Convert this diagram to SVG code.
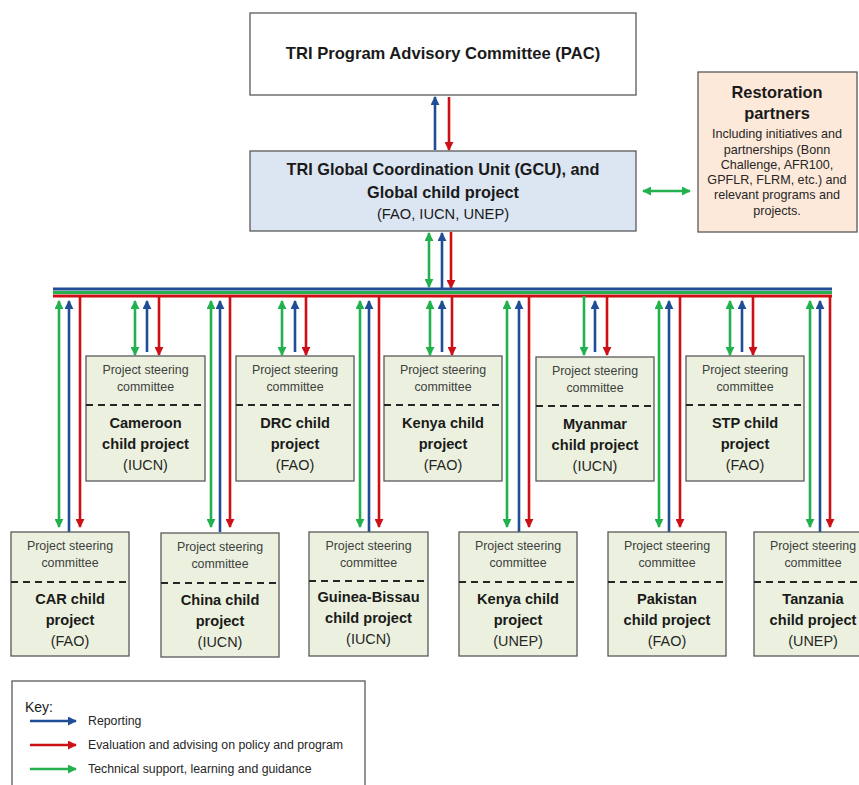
<svg xmlns="http://www.w3.org/2000/svg" width="859" height="785" viewBox="0 0 859 785">
<style>
text{font-family:"Liberation Sans",Arial,sans-serif;fill:#1a1a1a;text-anchor:middle}
.box{stroke:#595959;stroke-width:1.3}
.child{fill:#ebf1de}
.psc{font-size:12.4px;fill:#404040}
.nm{font-size:14.6px;font-weight:bold}
.ag{font-size:14.4px;fill:#262626}
.dash{stroke:#262626;stroke-width:2;stroke-dasharray:7 5}
.b{stroke:#1f4e96;stroke-width:2.6;fill:none}
.r{stroke:#cc1016;stroke-width:2.6;fill:none}
.g{stroke:#22b14c;stroke-width:2.6;fill:none}
.key{font-size:12.3px;text-anchor:start;fill:#262626}
.sm{font-size:12.6px;fill:#262626}
</style>
<defs>
<marker id="hb" viewBox="0 0 10 10" refX="9" refY="5" markerWidth="9" markerHeight="9" markerUnits="userSpaceOnUse" orient="auto-start-reverse"><path d="M0,0 L10,5 L0,10 z" fill="#1f4e96"/></marker>
<marker id="hr" viewBox="0 0 10 10" refX="9" refY="5" markerWidth="9" markerHeight="9" markerUnits="userSpaceOnUse" orient="auto-start-reverse"><path d="M0,0 L10,5 L0,10 z" fill="#cc1016"/></marker>
<marker id="hg" viewBox="0 0 10 10" refX="9" refY="5" markerWidth="9" markerHeight="9" markerUnits="userSpaceOnUse" orient="auto-start-reverse"><path d="M0,0 L10,5 L0,10 z" fill="#22b14c"/></marker>
</defs>
<rect width="859" height="785" fill="#ffffff"/>

<g id="connectors">
  <!-- PAC - GCU -->
  <line class="b" x1="435" y1="150" x2="435" y2="97" marker-end="url(#hb)"/>
  <line class="r" x1="449" y1="97" x2="449" y2="150" marker-end="url(#hr)"/>
  <!-- GCU - partners -->
  <line class="g" x1="643" y1="191" x2="690" y2="191" marker-start="url(#hg)" marker-end="url(#hg)"/>
  <!-- GCU - bus -->
  <line class="g" x1="429" y1="233" x2="429" y2="287" marker-start="url(#hg)" marker-end="url(#hg)"/>
  <line class="b" x1="442" y1="288" x2="442" y2="233" marker-end="url(#hb)"/>
  <line class="r" x1="451" y1="232" x2="451" y2="288" marker-end="url(#hr)"/>
  <!-- bus -->
  <line x1="53" y1="289" x2="832" y2="289" stroke="#1f4e96" stroke-width="3"/>
  <line x1="53" y1="292.5" x2="832" y2="292.5" stroke="#22b14c" stroke-width="3"/>
  <line x1="53" y1="296" x2="832" y2="296" stroke="#cc1016" stroke-width="3"/>
  <!-- upper row -->
  <line class="g" x1="135" y1="301" x2="135" y2="355" marker-start="url(#hg)" marker-end="url(#hg)"/>
  <line class="b" x1="147" y1="352" x2="147" y2="301" marker-end="url(#hb)"/>
  <line class="r" x1="159" y1="296" x2="159" y2="355" marker-end="url(#hr)"/>
  <line class="g" x1="282" y1="301" x2="282" y2="355" marker-start="url(#hg)" marker-end="url(#hg)"/>
  <line class="b" x1="295" y1="352" x2="295" y2="301" marker-end="url(#hb)"/>
  <line class="r" x1="306" y1="296" x2="306" y2="355" marker-end="url(#hr)"/>
  <line class="g" x1="430" y1="301" x2="430" y2="355" marker-start="url(#hg)" marker-end="url(#hg)"/>
  <line class="b" x1="442" y1="352" x2="442" y2="301" marker-end="url(#hb)"/>
  <line class="r" x1="452" y1="296" x2="452" y2="355" marker-end="url(#hr)"/>
  <line class="g" x1="584" y1="296" x2="584" y2="355" marker-end="url(#hg)"/>
  <line class="b" x1="595" y1="352" x2="595" y2="301" marker-end="url(#hb)"/>
  <line class="r" x1="607" y1="296" x2="607" y2="355" marker-end="url(#hr)"/>
  <line class="g" x1="730" y1="301" x2="730" y2="355" marker-start="url(#hg)" marker-end="url(#hg)"/>
  <line class="b" x1="742" y1="352" x2="742" y2="301" marker-end="url(#hb)"/>
  <line class="r" x1="753" y1="296" x2="753" y2="355" marker-end="url(#hr)"/>
  <!-- lower row -->
  <line class="g" x1="59" y1="301" x2="59" y2="527" marker-start="url(#hg)" marker-end="url(#hg)"/>
  <line class="b" x1="69" y1="532" x2="69" y2="301" marker-end="url(#hb)"/>
  <line class="r" x1="80" y1="296" x2="80" y2="527" marker-end="url(#hr)"/>
  <line class="g" x1="211" y1="301" x2="211" y2="527" marker-start="url(#hg)" marker-end="url(#hg)"/>
  <line class="b" x1="220" y1="532" x2="220" y2="301" marker-end="url(#hb)"/>
  <line class="r" x1="230" y1="296" x2="230" y2="527" marker-end="url(#hr)"/>
  <line class="g" x1="360" y1="301" x2="360" y2="527" marker-start="url(#hg)" marker-end="url(#hg)"/>
  <line class="b" x1="369" y1="532" x2="369" y2="301" marker-end="url(#hb)"/>
  <line class="r" x1="379" y1="296" x2="379" y2="527" marker-end="url(#hr)"/>
  <line class="g" x1="507" y1="301" x2="507" y2="527" marker-start="url(#hg)" marker-end="url(#hg)"/>
  <line class="b" x1="519" y1="532" x2="519" y2="301" marker-end="url(#hb)"/>
  <line class="r" x1="529" y1="296" x2="529" y2="527" marker-end="url(#hr)"/>
  <line class="g" x1="659" y1="301" x2="659" y2="527" marker-start="url(#hg)" marker-end="url(#hg)"/>
  <line class="b" x1="669" y1="532" x2="669" y2="301" marker-end="url(#hb)"/>
  <line class="r" x1="680" y1="296" x2="680" y2="527" marker-end="url(#hr)"/>
  <line class="g" x1="810" y1="301" x2="810" y2="527" marker-start="url(#hg)" marker-end="url(#hg)"/>
  <line class="b" x1="820" y1="532" x2="820" y2="301" marker-end="url(#hb)"/>
  <line class="r" x1="830" y1="296" x2="830" y2="527" marker-end="url(#hr)"/>
</g>

<g id="pac">
  <rect class="box" x="250" y="13" width="386" height="82" fill="#ffffff"/>
  <text x="443" y="59" font-size="16.6" font-weight="bold">TRI Program Advisory Committee (PAC)</text>
</g>

<g id="gcu">
  <rect class="box" x="250" y="151" width="386" height="80" fill="#dce6f2"/>
  <text x="443" y="175" font-size="16.3" font-weight="bold">TRI Global Coordination Unit (GCU), and</text>
  <text x="443" y="198" font-size="16.3" font-weight="bold">Global child project</text>
  <text x="443" y="219" font-size="14.7" fill="#262626">(FAO, IUCN, UNEP)</text>
</g>

<g id="partners">
  <rect class="box" x="698" y="72" width="159" height="160" fill="#fde9d9"/>
  <text x="777" y="98" font-size="16.4" font-weight="bold">Restoration</text>
  <text x="777" y="119" font-size="16.4" font-weight="bold">partners</text>
  <text class="sm" x="777" y="138">Including initiatives and</text>
  <text class="sm" x="777" y="154">partnerships (Bonn</text>
  <text class="sm" x="777" y="169">Challenge, AFR100,</text>
  <text class="sm" x="777" y="184">GPFLR, FLRM, etc.) and</text>
  <text class="sm" x="777" y="199">relevant programs and</text>
  <text class="sm" x="777" y="215">projects.</text>
</g>

<g id="cameroon">
  <rect class="box child" x="86" y="356" width="119" height="125"/>
  <text class="psc" x="145.5" y="374">Project steering</text>
  <text class="psc" x="145.5" y="391">committee</text>
  <line class="dash" x1="86" y1="405" x2="205" y2="405"/>
  <text class="nm" x="145.5" y="428">Cameroon</text>
  <text class="nm" x="145.5" y="449">child project</text>
  <text class="ag" x="145.5" y="470">(IUCN)</text>
</g>
<g id="drc">
  <rect class="box child" x="236" y="356" width="118" height="125"/>
  <text class="psc" x="295" y="374">Project steering</text>
  <text class="psc" x="295" y="391">committee</text>
  <line class="dash" x1="236" y1="405" x2="354" y2="405"/>
  <text class="nm" x="295" y="428">DRC child</text>
  <text class="nm" x="295" y="449">project</text>
  <text class="ag" x="295" y="470">(FAO)</text>
</g>
<g id="kenya-fao">
  <rect class="box child" x="384" y="356" width="118" height="125"/>
  <text class="psc" x="443" y="374">Project steering</text>
  <text class="psc" x="443" y="391">committee</text>
  <line class="dash" x1="384" y1="405" x2="502" y2="405"/>
  <text class="nm" x="443" y="428">Kenya child</text>
  <text class="nm" x="443" y="449">project</text>
  <text class="ag" x="443" y="470">(FAO)</text>
</g>
<g id="myanmar">
  <rect class="box child" x="536" y="357" width="118" height="124"/>
  <text class="psc" x="595" y="375">Project steering</text>
  <text class="psc" x="595" y="392">committee</text>
  <line class="dash" x1="536" y1="406" x2="654" y2="406"/>
  <text class="nm" x="595" y="429">Myanmar</text>
  <text class="nm" x="595" y="450">child project</text>
  <text class="ag" x="595" y="471">(IUCN)</text>
</g>
<g id="stp">
  <rect class="box child" x="686" y="356" width="118" height="125"/>
  <text class="psc" x="745" y="374">Project steering</text>
  <text class="psc" x="745" y="391">committee</text>
  <line class="dash" x1="686" y1="405" x2="804" y2="405"/>
  <text class="nm" x="745" y="428">STP child</text>
  <text class="nm" x="745" y="449">project</text>
  <text class="ag" x="745" y="470">(FAO)</text>
</g>

<g id="car">
  <rect class="box child" x="11" y="532" width="118" height="124"/>
  <text class="psc" x="70" y="550">Project steering</text>
  <text class="psc" x="70" y="567">committee</text>
  <line class="dash" x1="11" y1="582" x2="129" y2="582"/>
  <text class="nm" x="70" y="604">CAR child</text>
  <text class="nm" x="70" y="625">project</text>
  <text class="ag" x="70" y="646">(FAO)</text>
</g>
<g id="china">
  <rect class="box child" x="161" y="533" width="118" height="124"/>
  <text class="psc" x="220" y="551">Project steering</text>
  <text class="psc" x="220" y="568">committee</text>
  <line class="dash" x1="161" y1="583" x2="279" y2="583"/>
  <text class="nm" x="220" y="605">China child</text>
  <text class="nm" x="220" y="626">project</text>
  <text class="ag" x="220" y="647">(IUCN)</text>
</g>
<g id="guinea-bissau">
  <rect class="box child" x="309" y="532" width="119" height="124"/>
  <text class="psc" x="368.5" y="550">Project steering</text>
  <text class="psc" x="368.5" y="567">committee</text>
  <line class="dash" x1="309" y1="581" x2="428" y2="581"/>
  <text class="nm" x="368.5" y="602" font-size="13.6">Guinea-Bissau</text>
  <text class="nm" x="368.5" y="623">child project</text>
  <text class="ag" x="368.5" y="644">(IUCN)</text>
</g>
<g id="kenya-unep">
  <rect class="box child" x="459" y="532" width="118" height="124"/>
  <text class="psc" x="518" y="550">Project steering</text>
  <text class="psc" x="518" y="567">committee</text>
  <line class="dash" x1="459" y1="582" x2="577" y2="582"/>
  <text class="nm" x="518" y="604">Kenya child</text>
  <text class="nm" x="518" y="625">project</text>
  <text class="ag" x="518" y="646">(UNEP)</text>
</g>
<g id="pakistan">
  <rect class="box child" x="608" y="532" width="118" height="124"/>
  <text class="psc" x="667" y="550">Project steering</text>
  <text class="psc" x="667" y="567">committee</text>
  <line class="dash" x1="608" y1="582" x2="726" y2="582"/>
  <text class="nm" x="667" y="604">Pakistan</text>
  <text class="nm" x="667" y="625">child project</text>
  <text class="ag" x="667" y="646">(FAO)</text>
</g>
<g id="tanzania">
  <rect class="box child" x="754" y="532" width="118" height="124"/>
  <text class="psc" x="813" y="550">Project steering</text>
  <text class="psc" x="813" y="567">committee</text>
  <line class="dash" x1="754" y1="582" x2="872" y2="582"/>
  <text class="nm" x="813" y="604">Tanzania</text>
  <text class="nm" x="813" y="625">child project</text>
  <text class="ag" x="813" y="646">(UNEP)</text>
</g>

<g id="key">
  <rect class="box" x="12" y="681" width="353" height="120" fill="#ffffff"/>
  <text x="25" y="712" font-size="14" fill="#262626" style="text-anchor:start">Key:</text>
  <line class="b" x1="30" y1="721" x2="76" y2="721" marker-end="url(#hb)"/>
  <line class="r" x1="30" y1="745" x2="76" y2="745" marker-end="url(#hr)"/>
  <line class="g" x1="30" y1="769" x2="76" y2="769" marker-end="url(#hg)"/>
  <text class="key" x="88" y="725">Reporting</text>
  <text class="key" x="88" y="749">Evaluation and advising on policy and program</text>
  <text class="key" x="88" y="773">Technical support, learning and guidance</text>
</g>
</svg>
